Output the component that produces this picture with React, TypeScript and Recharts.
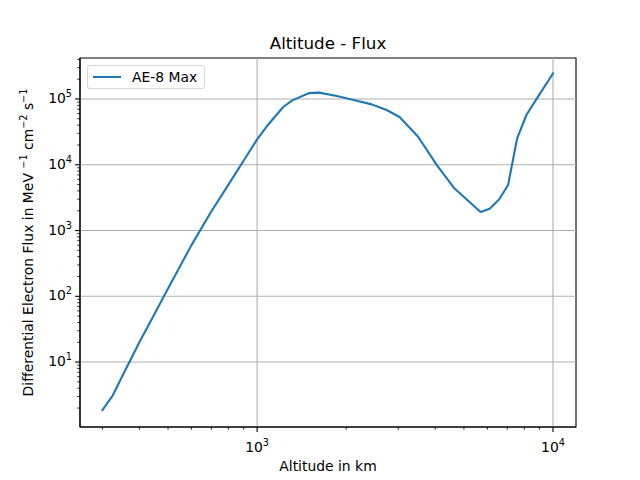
import React from "react";
import {
  LineChart,
  Line,
  XAxis,
  YAxis,
  ReferenceLine,
  ReferenceArea,
  Legend,
} from "recharts";

// AE-8 Max electron flux vs altitude
const altitude = [
  300, 325, 350, 400, 450, 500, 600, 700, 800, 900, 1000, 1080, 1225, 1315,
  1500, 1620, 1860, 2120, 2440, 2740, 3030, 3500, 4050, 4620, 5690, 6110,
  6570, 7050, 7560, 8130, 8780, 10000,
];
const flux = [
  1.86, 3.1, 6.1, 20, 54, 131, 600, 1950, 5000, 11500, 24300, 38800, 75600,
  95200, 123000, 125000, 111000, 96600, 82800, 68100, 53200, 26700, 9900,
  4480, 1910, 2150, 2970, 4920, 24900, 57100, 98600, 245000,
];

const xDomain = [252, 11960];
const yDomain = [1.03, 4.2e5];
const xMajor = [1000, 10000];
const yMajor = [10, 100, 1000, 10000, 100000];

const minorTicks = (lo: number, hi: number) => {
  const out: number[] = [];
  for (let e = -1; e <= 6; e++) {
    for (let m = 1; m <= 9; m++) {
      const v = m * Math.pow(10, e);
      if (v >= lo && v <= hi) out.push(v);
    }
  }
  return out;
};

const data = altitude.map((a, i) => ({ alt: a, flux: flux[i] }));

const FONT = "DejaVu Sans, sans-serif";
const GRID = "#b0b0b0";
const BLUE = "#1f77b4";

const isMajor = (v: number) => Math.abs(Math.log10(v) - Math.round(Math.log10(v))) < 1e-9;

const XTick = ({ x, y, payload }: any) => {
  const v = payload.value;
  const major = isMajor(v);
  return (
    <g>
      <line x1={x} y1={y} x2={x} y2={y + (major ? 4.9 : 2.8)} stroke="#000" strokeWidth={major ? 1.1 : 0.8} />
      {major && (
        <text x={x} y={y + 24.5} textAnchor="middle" fontFamily={FONT} fontSize={13.9} fill="#000">
          <tspan>10</tspan>
          <tspan dy={-6} fontSize={9.7}>{Math.round(Math.log10(v))}</tspan>
        </text>
      )}
    </g>
  );
};

const YTick = ({ x, y, payload }: any) => {
  const v = payload.value;
  const major = isMajor(v);
  return (
    <g>
      <line x1={x} y1={y} x2={x - (major ? 4.9 : 2.8)} y2={y} stroke="#000" strokeWidth={major ? 1.1 : 0.8} />
      {major && (
        <text x={x - 8} y={y + 4} textAnchor="end" fontFamily={FONT} fontSize={13.9} fill="#000">
          <tspan>10</tspan>
          <tspan dy={-6} fontSize={9.7}>{Math.round(Math.log10(v))}</tspan>
        </text>
      )}
    </g>
  );
};

const LegendBox = () => (
  <div
    style={{
      display: "flex",
      alignItems: "center",
      border: "1px solid #d5d5d5",
      borderRadius: 3,
      background: "rgba(255,255,255,0.8)",
      padding: "3px 7px 3px 5px",
      fontFamily: FONT,
      fontSize: 13.9,
      color: "#000",
      whiteSpace: "nowrap",
    }}
  >
    <span
      style={{
        display: "inline-block",
        width: 28,
        height: 0,
        borderTop: `2px solid ${BLUE}`,
        marginRight: 11,
      }}
    />
    AE-8 Max
  </div>
);

export default function App() {
  return (
    <div style={{ position: "absolute", left: 0, top: 0, width: 640, height: 480, background: "#fff" }}>
      <LineChart
        width={640}
        height={480}
        data={data}
        margin={{ top: 58, right: 64, left: 20, bottom: 13 }}
      >
        <text x={328} y={49} textAnchor="middle" fontFamily={FONT} fontSize={16.7} fill="#000">
          Altitude - Flux
        </text>
        <XAxis
          dataKey="alt"
          type="number"
          scale="log"
          domain={xDomain}
          allowDataOverflow
          ticks={[...minorTicks(xDomain[0], xDomain[1])]}
          interval={0}
          tick={<XTick />}
          tickLine={false}
          tickSize={0}
          tickMargin={0}
          height={40}
          axisLine={{ stroke: "#000", strokeWidth: 1.1 }}
          label={(p: any) => {
            const vb = p.viewBox;
            return (
              <text x={vb.x + vb.width / 2} y={471} textAnchor="middle" fontFamily={FONT} fontSize={13.9} fill="#000">
                Altitude in km
              </text>
            );
          }}
        />
        <YAxis
          dataKey="flux"
          type="number"
          scale="log"
          domain={yDomain}
          allowDataOverflow
          ticks={[...minorTicks(yDomain[0], yDomain[1])]}
          interval={0}
          tick={<YTick />}
          tickLine={false}
          tickSize={0}
          tickMargin={0}
          width={60}
          axisLine={{ stroke: "#000", strokeWidth: 1.1 }}
          label={() => {
            const cy = 242.5;
            return (
              <text
                x={33}
                y={cy}
                transform={`rotate(-90, 33, ${cy})`}
                textAnchor="middle"
                fontFamily={FONT}
                fontSize={13.9}
                fill="#000"
              >
                <tspan>Differential Electron Flux in MeV </tspan>
                <tspan dy={-6} fontSize={9.7}>−1</tspan>
                <tspan dy={6}> cm</tspan>
                <tspan dy={-6} fontSize={9.7}>−2</tspan>
                <tspan dy={6}> s</tspan>
                <tspan dy={-6} fontSize={9.7}>−1</tspan>
              </text>
            );
          }}
        />
        {xMajor.map((v) => (
          <ReferenceLine key={"x" + v} x={v} stroke={GRID} strokeWidth={1.1} />
        ))}
        {yMajor.map((v) => (
          <ReferenceLine key={"y" + v} y={v} stroke={GRID} strokeWidth={1.1} />
        ))}
        <Line
          type="linear"
          dataKey="flux"
          name="AE-8 Max"
          stroke={BLUE}
          strokeWidth={2.1}
          strokeLinejoin="round"
          strokeLinecap="square"
          dot={false}
          isAnimationActive={false}
        />
        <ReferenceArea
          x1={xDomain[0]}
          x2={xDomain[1]}
          y1={yDomain[0]}
          y2={yDomain[1]}
          fill="none"
          fillOpacity={0}
          stroke="#000"
          strokeWidth={1.1}
          ifOverflow="visible"
        />
        <Legend
          layout="horizontal"
          verticalAlign="middle"
          align="center"
          content={<LegendBox />}
          wrapperStyle={{ left: 87, top: 65, width: "auto", height: "auto" }}
        />
      </LineChart>
    </div>
  );
}
